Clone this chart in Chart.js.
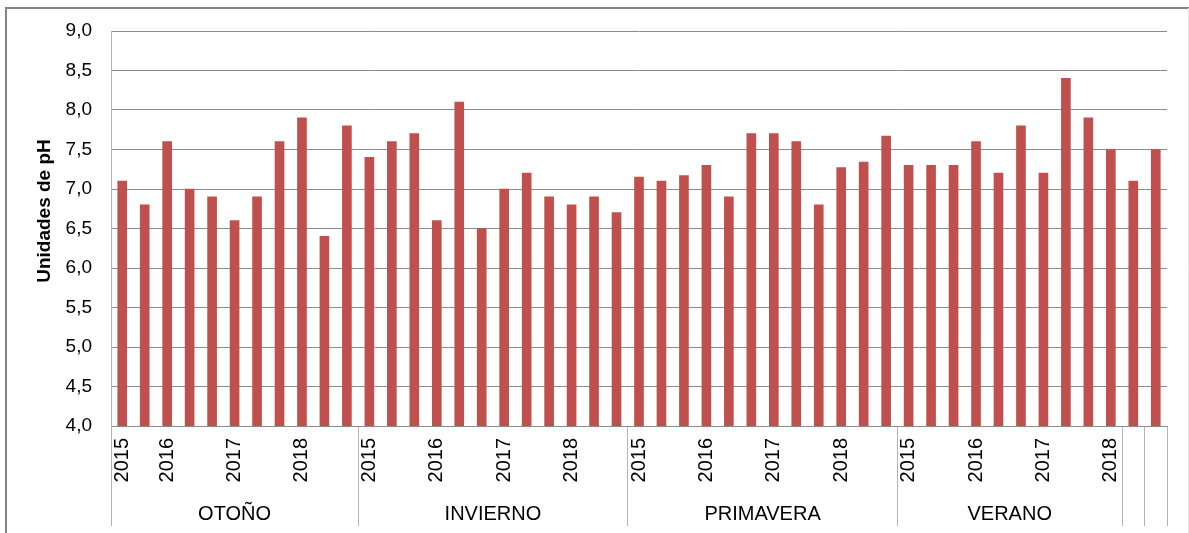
<!DOCTYPE html>
<html>
<head>
<meta charset="utf-8">
<script src="https://cdn.jsdelivr.net/npm/chart.js@4"></script>
<style>
  html, body { margin: 0; padding: 0; background: #fff; }
  #wrap { width: 1189px; height: 533px; position: relative; }
</style>
</head>
<body>
<div id="wrap"><canvas id="ph-chart"></canvas></div>
<script>
'use strict';

// pH por estación, mediciones 2015-2018
const seasons = ['OTOÑO', 'INVIERNO', 'PRIMAVERA', 'VERANO', '', ''];

const otonoValues     = [7.1, 6.8, 7.6, 7.0, 6.9, 6.6, 6.9, 7.6, 7.9, 6.4, 7.8];
const inviernoValues  = [7.4, 7.6, 7.7, 6.6, 8.1, 6.5, 7.0, 7.2, 6.9, 6.8, 6.9, 6.7];
const primaveraValues = [7.15, 7.1, 7.17, 7.3, 6.9, 7.7, 7.7, 7.6, 6.8, 7.27, 7.34, 7.67];
const veranoValues    = [7.3, 7.3, 7.3, 7.6, 7.2, 7.8, 7.2, 8.4, 7.9, 7.5];
const extraValues1    = [7.1];
const extraValues2    = [7.5];

const otonoYears     = ['2015', '', '2016', '', '', '2017', '', '', '2018', '', ''];
const inviernoYears  = ['2015', '', '', '2016', '', '', '2017', '', '', '2018', '', ''];
const primaveraYears = ['2015', '', '', '2016', '', '', '2017', '', '', '2018', '', ''];
const veranoYears    = ['2015', '', '', '2016', '', '', '2017', '', '', '2018'];
const extraYears1    = [''];
const extraYears2    = [''];

const yTicks = { min: 4, max: 9, step: 0.5 };
const yTitle = 'Unidades de pH';

const groupValues = [otonoValues, inviernoValues, primaveraValues, veranoValues, extraValues1, extraValues2];
const groupYears  = [otonoYears, inviernoYears, primaveraYears, veranoYears, extraYears1, extraYears2];

const values = groupValues.flat();
const labels = groupYears.flat();

// index of first bar in each group (+ end)
const bounds = [0];
groupValues.forEach(g => bounds.push(bounds[bounds.length - 1] + g.length));

const FONT = "'Liberation Sans', Arial, sans-serif";
const GRID = '#8c8c8c';
const SEP  = '#b4b4b4';

const decorations = {
    id: 'decorations',
    beforeDraw(chart) {
        const { ctx } = chart;
        ctx.save();
        ctx.strokeStyle = '#858585';
        ctx.lineWidth = 2;
        ctx.beginPath();
        ctx.moveTo(6, 533);
        ctx.lineTo(6, 8);
        ctx.lineTo(1189, 8);
        ctx.stroke();
        ctx.strokeStyle = '#e4e4e4';
        ctx.lineWidth = 1;
        ctx.beginPath();
        ctx.moveTo(1188.5, 8);
        ctx.lineTo(1188.5, 533);
        ctx.stroke();
        ctx.restore();
    },
    afterDraw(chart) {
        const { ctx } = chart;
        const x = chart.scales.x;
        const half = (x.getPixelForValue(1) - x.getPixelForValue(0)) / 2;
        ctx.save();
        ctx.fillStyle = '#000';
        ctx.font = `20px ${FONT}`;
        ctx.textAlign = 'center';
        ctx.textBaseline = 'alphabetic';
        seasons.forEach((s, i) => {
            if (!s) return;
            const l = x.getPixelForValue(bounds[i]) - half;
            const r = x.getPixelForValue(bounds[i + 1] - 1) + half;
            ctx.fillText(s, (l + r) / 2, 520);
        });
        // y axis title
        ctx.font = `bold 19px ${FONT}`;
        ctx.translate(45, 211);
        ctx.rotate(-Math.PI / 2);
        ctx.textBaseline = 'middle';
        ctx.fillText(yTitle, 0, 0);
        ctx.restore();
    },
};

new Chart(document.getElementById('ph-chart'), {
    type: 'bar',
    data: {
        labels,
        datasets: [{
            data: values,
            backgroundColor: '#C0504D',
            barThickness: 9,
        }],
    },
    options: {
        responsive: true,
        maintainAspectRatio: false,
        animation: false,
        layout: { padding: { top: 31, right: 22, left: 0, bottom: 0 } },
        plugins: {
            legend: { display: false },
            tooltip: { enabled: false },
        },
        scales: {
            x: {
                afterFit: s => { s.height = 107; },
                border: { color: GRID, width: 1 },
                grid: {
                    offset: true,
                    drawOnChartArea: false,
                    tickLength: 100,
                    color: c => (c.index === undefined || bounds.includes(c.index)) ? SEP : 'rgba(0,0,0,0)',
                },
                ticks: {
                    autoSkip: false,
                    minRotation: 90,
                    maxRotation: 90,
                    padding: -88,
                    color: '#000',
                    font: { family: FONT, size: 20 },
                },
            },
            y: {
                min: yTicks.min,
                max: yTicks.max,
                afterFit: s => { s.width = 111; },
                border: { color: SEP, width: 1 },
                grid: { color: GRID, drawTicks: false },
                ticks: {
                    stepSize: yTicks.step,
                    padding: 19,
                    color: '#000',
                    font: { family: FONT, size: 19 },
                    callback: v => v.toFixed(1).replace('.', ','),
                },
            },
        },
    },
    plugins: [decorations],
});
</script>
</body>
</html>
